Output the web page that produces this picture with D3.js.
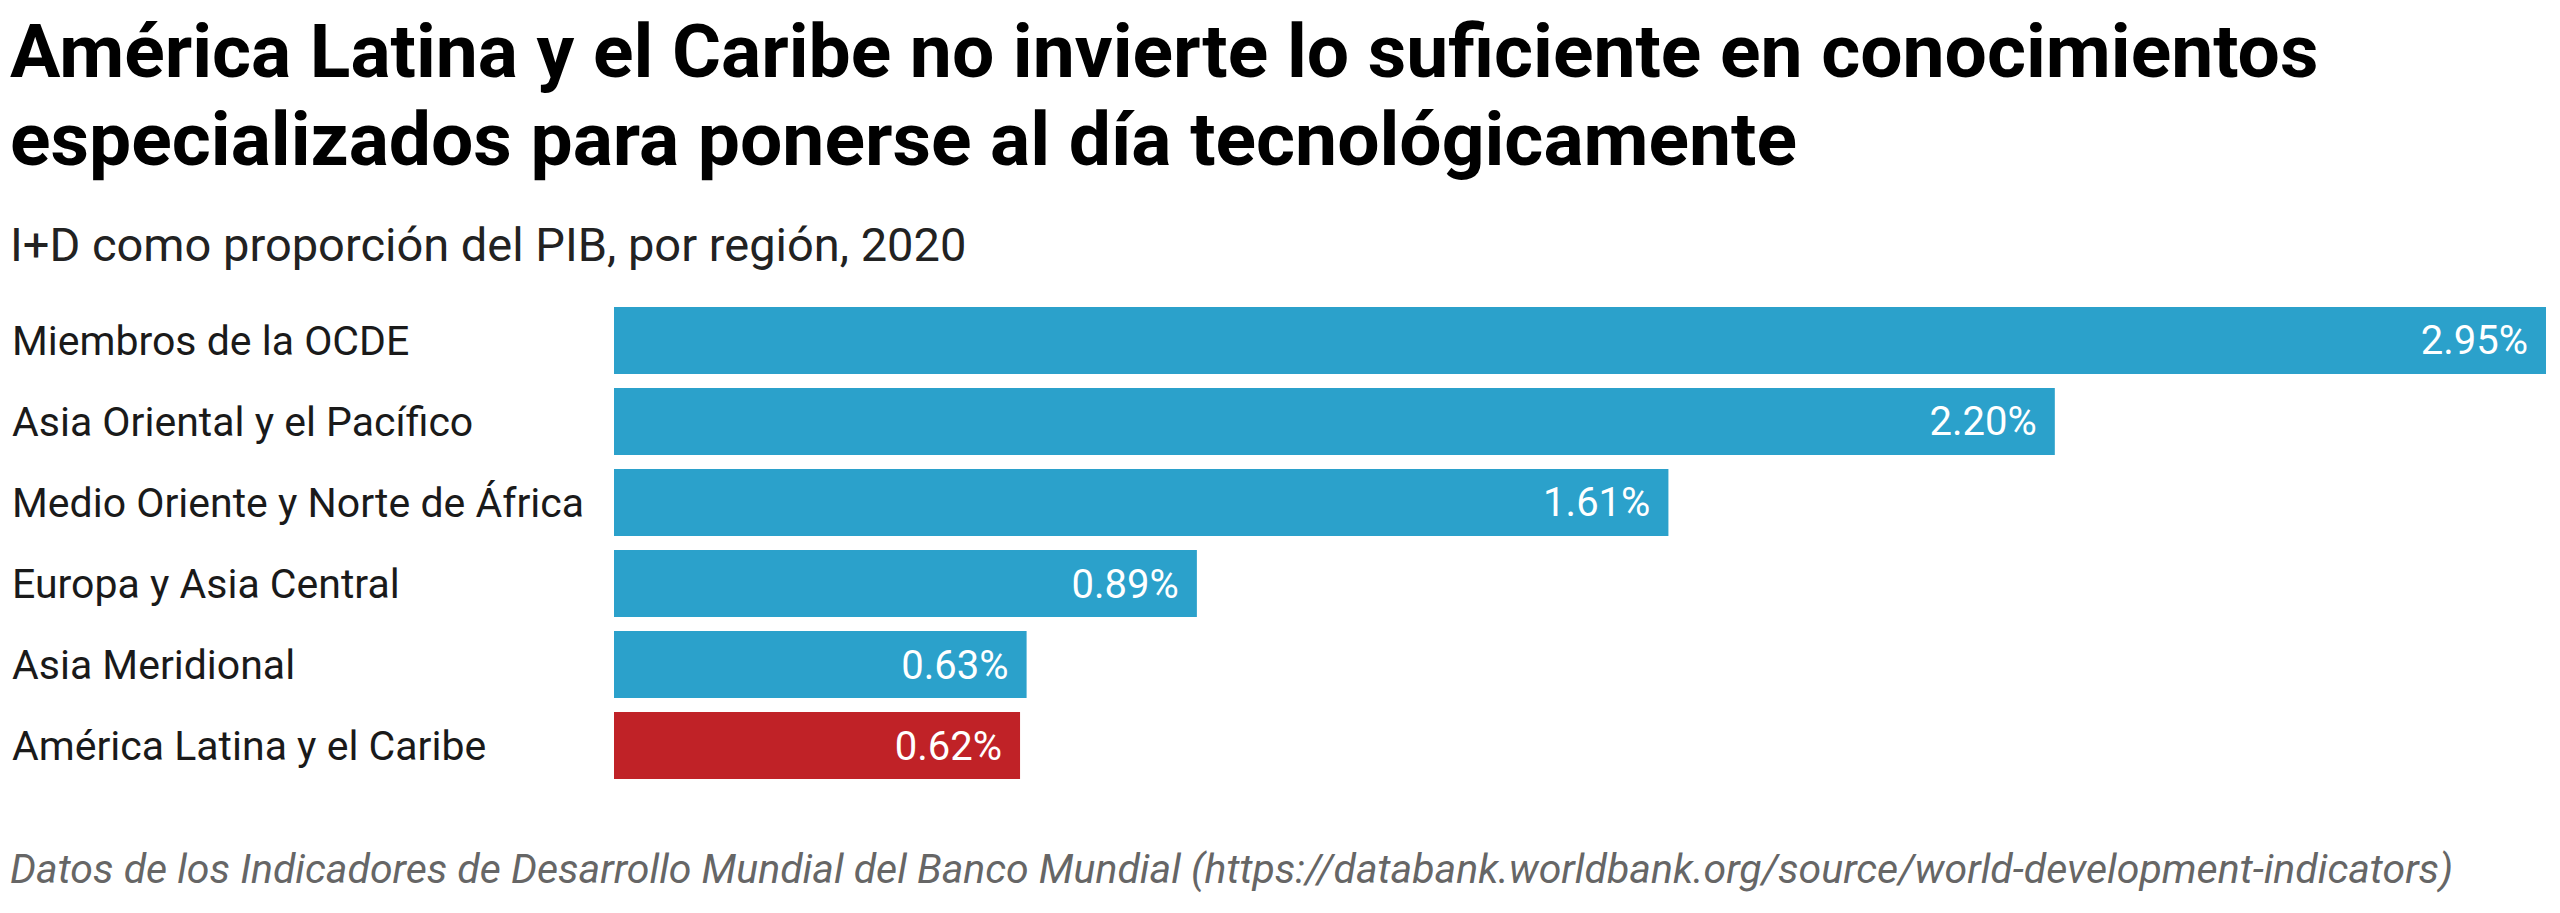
<!DOCTYPE html>
<html>
<head>
<meta charset="utf-8">
<script src="https://cdn.jsdelivr.net/npm/d3@7"></script>
<style>
  body { margin: 0; background: #fff; }
  svg { display: block; font-family: Roboto, sans-serif; }
</style>
</head>
<body>
<svg id="chart" width="2560" height="913"></svg>
<script>
// Chart data
const regions = [
  'Miembros de la OCDE',
  'Asia Oriental y el Pacífico',
  'Medio Oriente y Norte de África',
  'Europa y Asia Central',
  'Asia Meridional',
  'América Latina y el Caribe'
];
const values = [2.95, 2.20, 1.61, 0.89, 0.63, 0.62];
const highlight = 'América Latina y el Caribe';

const titleLines = [
  'América Latina y el Caribe no invierte lo suficiente en conocimientos',
  'especializados para ponerse al día tecnológicamente'
];
const subtitle = 'I+D como proporción del PIB, por región, 2020';
const source = 'Datos de los Indicadores de Desarrollo Mundial del Banco Mundial (https://databank.worldbank.org/source/world-development-indicators)';

const BLUE = '#2ba1cb';
const RED = '#c02227';

const svg = d3.select('#chart');
const data = regions.map((r, i) => ({ region: r, value: values[i] }));

// header
svg.selectAll('text.title')
  .data(titleLines)
  .join('text')
  .attr('class', 'title')
  .attr('x', 10)
  .attr('y', (d, i) => 77 + i * 88)
  .attr('font-size', 75)
  .attr('font-weight', 700)
  .attr('fill', '#000')
  .text((d) => d);

svg.append('text')
  .attr('x', 10)
  .attr('y', 261)
  .attr('font-size', 47)
  .attr('fill', '#222')
  .text(subtitle);

// scales
const x = d3.scaleLinear().domain([0, 2.95]).range([614, 2546]);
const y = d3.scaleBand().domain(regions).range([307, 779]).paddingInner(0.173).paddingOuter(0);

const rows = svg.selectAll('g.row')
  .data(data)
  .join('g')
  .attr('class', 'row');

rows.append('rect')
  .attr('x', x(0))
  .attr('y', (d) => y(d.region))
  .attr('width', (d) => x(d.value) - x(0))
  .attr('height', y.bandwidth())
  .attr('fill', (d) => (d.region === highlight ? RED : BLUE));

rows.append('text')
  .attr('x', 12)
  .attr('y', (d) => y(d.region) + y.bandwidth() / 2)
  .attr('dy', '0.35em')
  .attr('font-size', 41)
  .attr('fill', '#1a1a1a')
  .text((d) => d.region);

rows.append('text')
  .attr('x', (d) => x(d.value) - 18)
  .attr('y', (d) => y(d.region) + y.bandwidth() / 2)
  .attr('dy', '0.35em')
  .attr('text-anchor', 'end')
  .attr('font-size', 40)
  .attr('fill', '#fff')
  .text((d) => `${d.value.toFixed(2)}%`);

// footer
svg.append('text')
  .attr('x', 10)
  .attr('y', 883)
  .attr('font-size', 41)
  .attr('font-style', 'italic')
  .attr('fill', '#666')
  .text(source);
</script>
</body>
</html>
